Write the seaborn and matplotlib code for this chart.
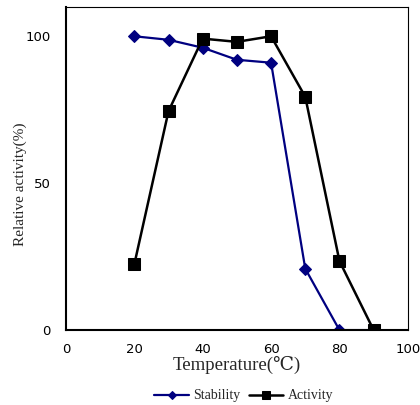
import pandas as pd
import matplotlib
matplotlib.use('Agg')
import matplotlib.pyplot as plt
import seaborn as sns

# Data
temperature = [20, 30, 40, 50, 60, 70, 80, 90]
stability = [100, 98.8, 96.1, 92.0, 91.0, 20.9, 0, 0]
activity = [22.4, 74.5, 99.2, 98.1, 100, 79.4, 23.5, 0]

y_ticks = [0, 20, 40, 50, 60, 80, 100]
y_labels = ['0', '', '', '50', '', '', '100']
x_ticks = [0, 20, 40, 60, 80, 100]

sns.set_style('white')
plt.rcParams['font.family'] = ['DejaVu Sans']

serif = ['Liberation Serif', 'DejaVu Serif', 'DejaVu Sans']

df = pd.DataFrame({'Temperature': temperature, 'Stability': stability, 'Activity': activity})

fig = plt.figure(figsize=(4.2, 4.05), dpi=100)
ax = fig.add_axes([0.157, 0.185, 0.814, 0.798])

sns.lineplot(data=df, x='Temperature', y='Stability', ax=ax, color='#000080',
             marker='D', markersize=6, linewidth=1.6, markeredgecolor='#000080',
             label='Stability')
sns.lineplot(data=df, x='Temperature', y='Activity', ax=ax, color='black',
             marker='s', markersize=8.5, linewidth=1.8, markeredgecolor='black',
             label='Activity')

ax.set_xlim(0, 100)
ax.set_ylim(0, 110)
ax.set_xticks(x_ticks)
ax.set_yticks(y_ticks)
ax.set_yticklabels(y_labels)
ax.tick_params(direction='in', length=4, width=1, labelsize=9.5, colors='black')
ax.tick_params(axis='x', pad=9)
ax.tick_params(axis='y', pad=11)

for side in ['left', 'bottom']:
    ax.spines[side].set_linewidth(1.5)
    ax.spines[side].set_color('black')
for side in ['top', 'right']:
    ax.spines[side].set_linewidth(0.8)
    ax.spines[side].set_color('black')

ax.set_xlabel('Temperature(℃)', family=serif, fontsize=13.5, labelpad=0)
ax.set_ylabel('Relative activity(%)', family=serif, fontsize=11)
ax.yaxis.set_label_coords(-0.115, 0.45)

leg = ax.legend(loc='upper center', bbox_to_anchor=(0.52, -0.145), ncol=2,
                frameon=False, prop={'family': serif, 'size': 10},
                handlelength=2.5, columnspacing=0.6, handletextpad=0.3,
                markerscale=0.75)

fig.savefig('out.png', dpi=100)
